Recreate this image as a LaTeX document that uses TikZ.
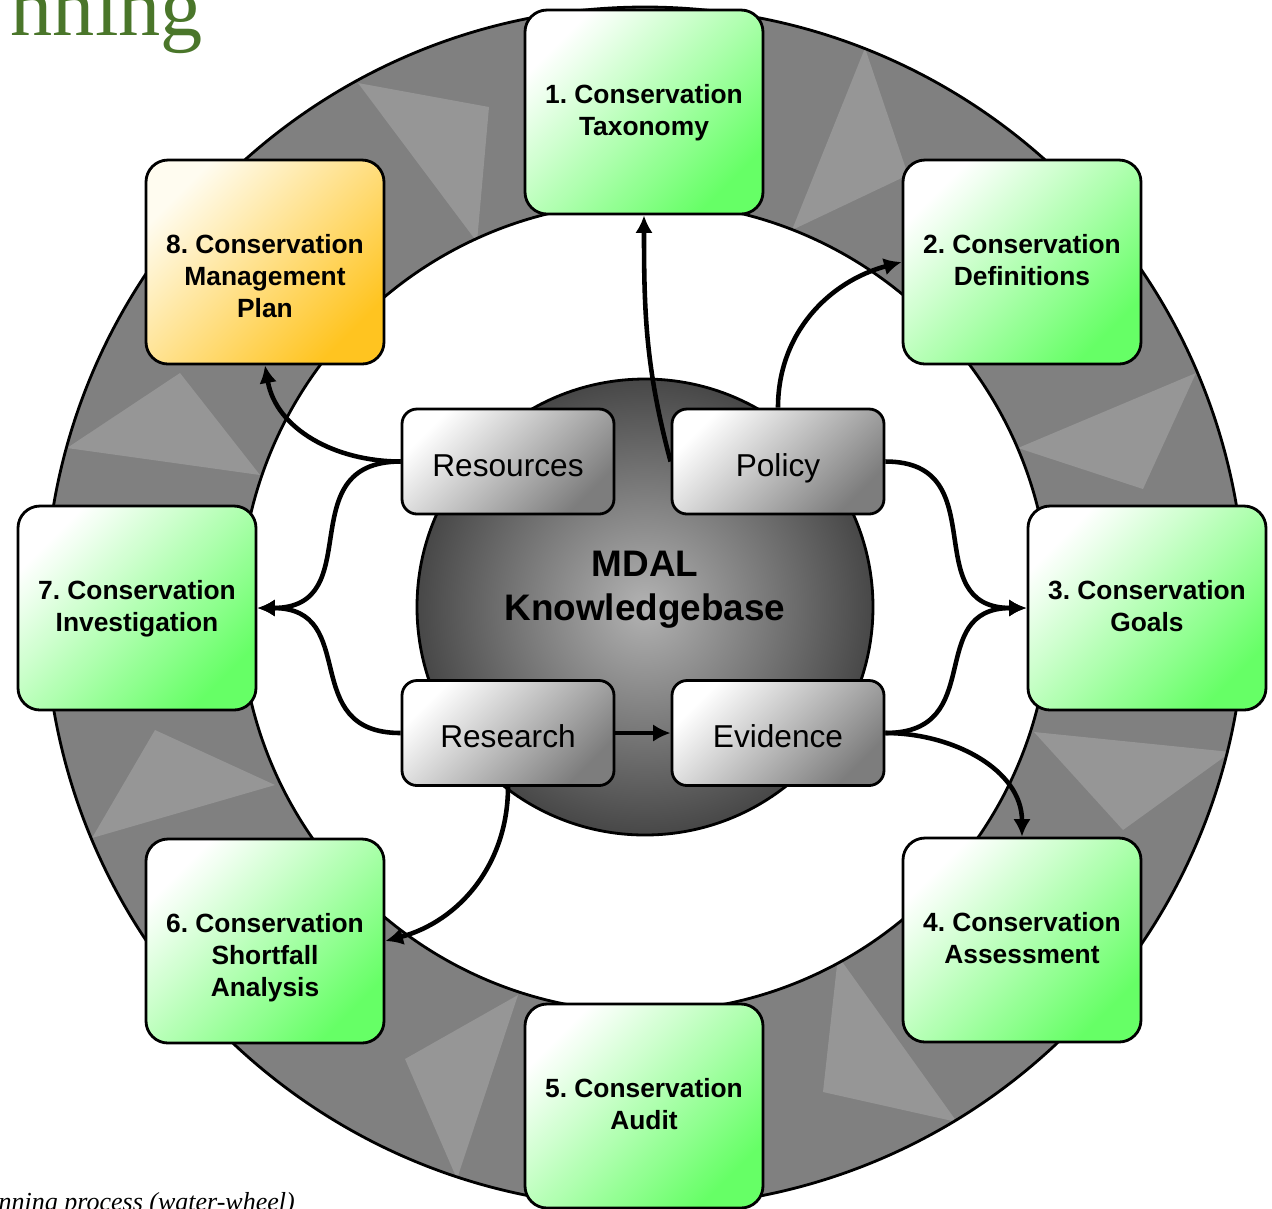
\documentclass[tikz,border=0pt]{standalone}
\usepackage{fontspec}
\setmainfont{Liberation Sans}
\newfontfamily\headserif{Liberation Serif}
\usepackage{xcolor}
\usepackage{tikz}
\usetikzlibrary{arrows.meta,shapes,positioning}
\frenchspacing
\definecolor{ringgray}{RGB}{128,128,128}
\definecolor{vanegray}{RGB}{150,150,150}
\definecolor{stagegreen}{RGB}{102,255,102}
\definecolor{planorange}{RGB}{255,196,32}
\definecolor{planlight}{RGB}{255,252,240}
\definecolor{sourcegray}{RGB}{125,125,125}
\definecolor{headgreen}{RGB}{74,118,42}
\newcommand{\stagetext}[1]{\begin{minipage}[c][1.9cm][t]{2.3cm}\centering\vspace*{0.67cm}#1\end{minipage}}
\tikzset{
	>={Latex[length=5pt,width=5pt]},
	stage/.style = {
			draw, line width=0.8pt,
			rounded corners=0.22cm,
			minimum width=2.38cm, minimum height=2.04cm,
			inner sep=0pt,
			top color=white, bottom color=stagegreen, shading angle=45,
			font=\fontsize{7.5}{9.1}\selectfont\bfseries,
		},
	plan/.style = {
			stage,
			top color=planlight, bottom color=planorange, shading angle=45,
		},
	source/.style = {
			draw, line width=0.8pt,
			rounded corners=0.15cm,
			minimum width=2.12cm, minimum height=1.05cm,
			text height=8.5pt, text depth=0pt,
			top color=white, bottom color=sourcegray, shading angle=45,
			font=\fontsize{9}{11}\selectfont,
		},
	hub/.style = {
			circle, draw, line width=0.8pt,
			minimum size=4.56cm,
			inner color=black!30, outer color=black!72,
		},
	flow/.style = {->, line width=1.3pt},
}

\begin{document}
\begin{tikzpicture}
        \useasboundingbox (0,0) rectangle (12.72,-12.08);
        \coordinate (c) at (6.45,-6.07);
        \fill[ringgray] (c) circle (6);
        \begin{scope}
          \clip (c) circle (6);
          \fill[vanegray] (3.58,-0.83) -- (4.89,-1.07) -- (4.77,-2.42) -- cycle;
          \fill[vanegray] (8.65,-0.48) -- (9.08,-1.75) -- (7.92,-2.30) -- cycle;
          \fill[vanegray] (11.96,-3.73) -- (11.43,-4.89) -- (10.18,-4.48) -- cycle;
          \fill[vanegray] (10.34,-7.32) -- (12.31,-7.52) -- (11.23,-8.30) -- cycle;
          \fill[vanegray] (8.38,-9.56) -- (9.57,-11.22) -- (8.23,-10.92) -- cycle;
          \fill[vanegray] (5.18,-9.95) -- (4.05,-10.59) -- (4.57,-11.79) -- cycle;
          \fill[vanegray] (0.92,-8.38) -- (1.55,-7.30) -- (2.75,-7.85) -- cycle;
          \fill[vanegray] (0.67,-4.48) -- (1.80,-3.73) -- (2.60,-4.75) -- cycle;
        \end{scope}
        \fill[white] (c) circle (4.05);
        \draw[line width=0.8pt] (c) circle (6) (c) circle (4.05);

        \node[anchor=base west, inner sep=0pt, text=headgreen, font=\headserif\fontsize{24}{24}\selectfont] (heading) at (0.10,-0.35) {nning};
        \node[anchor=base west, inner sep=0pt, font=\headserif\itshape\fontsize{7.4}{9}\selectfont] (caption) at (-0.02,-12.10) {nning process (water-wheel)};

        \node[hub] (kb) at (c) {};
        \node[font=\fontsize{10.5}{12.5}\selectfont\bfseries, align=center] (kbtext) at (6.45,-5.90) {MDAL\\Knowledgebase};

        \node[stage] (s1) at (6.44,-1.12) {\stagetext{1. Conservation\\Taxonomy}};
        \node[stage] (s2) at (10.22,-2.62) {\stagetext{2. Conservation\\Definitions}};
        \node[stage] (s3) at (11.47,-6.08) {\stagetext{3. Conservation\\Goals}};
        \node[stage] (s4) at (10.22,-9.40) {\stagetext{4. Conservation\\Assessment}};
        \node[stage] (s5) at (6.44,-11.06) {\stagetext{5. Conservation\\Audit}};
        \node[stage] (s6) at (2.65,-9.41) {\stagetext{6. Conservation\\Shortfall\\Analysis}};
        \node[stage] (s7) at (1.37,-6.08) {\stagetext{7. Conservation\\Investigation}};
        \node[plan] (s8) at (2.65,-2.62) {\stagetext{8. Conservation\\Management\\Plan}};

        \node[source] (res) at (5.08,-4.615) {Resources};
        \node[source] (pol) at (7.78,-4.615) {Policy};
        \node[source] (rsh) at (5.08,-7.33) {Research};
        \node[source] (evi) at (7.78,-7.33) {Evidence};

        \draw[flow] (pol.west) to[out=105,in=-90] (s1.south);
        \draw[flow] (pol.north) to[out=90,in=195] (s2.west);
        \draw[flow] (pol.east) to[out=0,in=180,looseness=1.4] (s3.west);
        \draw[flow] (evi.east) to[out=0,in=180,looseness=1.4] (s3.west);
        \draw[flow] (evi.east) to[out=0,in=90] (s4.north);
        \draw[flow] (rsh.east) -- (evi.west);
        \draw[flow] (rsh.south) to[out=-90,in=15] (s6.east);
        \draw[flow] (rsh.west) to[out=180,in=0,looseness=1.4] (s7.east);
        \draw[flow] (res.west) to[out=180,in=0,looseness=1.4] (s7.east);
        \draw[flow] (res.west) to[out=180,in=-80] (s8.south);
      \end{tikzpicture}
\end{document}
